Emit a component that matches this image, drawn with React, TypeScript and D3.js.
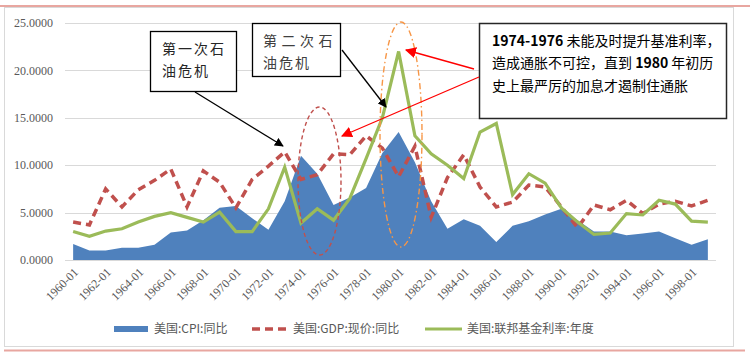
import React from "react";
import * as d3 from "d3";

const years = [
  "1960-01","1961-01","1962-01","1963-01","1964-01","1965-01","1966-01","1967-01","1968-01","1969-01",
  "1970-01","1971-01","1972-01","1973-01","1974-01","1975-01","1976-01","1977-01","1978-01","1979-01",
  "1980-01","1981-01","1982-01","1983-01","1984-01","1985-01","1986-01","1987-01","1988-01","1989-01",
  "1990-01","1991-01","1992-01","1993-01","1994-01","1995-01","1996-01","1997-01","1998-01","1999-01",
];
const cpi = [1.7,1.0,1.0,1.3,1.3,1.6,2.9,3.1,4.2,5.5,5.7,4.4,3.2,6.2,11.0,9.1,5.8,6.6,7.6,11.3,13.5,10.3,6.2,3.3,4.3,3.6,1.9,3.6,4.1,4.8,5.4,4.2,3.0,3.0,2.6,2.8,3.0,2.3,1.6,2.2];
const gdp = [4.0,3.7,7.5,5.6,7.4,8.4,9.6,5.6,9.4,8.2,5.5,8.5,9.9,11.4,8.5,9.0,11.2,11.1,13.1,11.8,8.8,12.0,4.5,8.7,11.1,7.7,5.6,6.1,7.9,7.7,5.6,3.4,5.8,5.3,6.3,4.9,5.9,6.2,5.7,6.3];
const fed = [3.0,2.5,3.05,3.3,4.0,4.6,5.0,4.5,4.0,5.05,3.0,3.0,5.4,9.8,3.9,5.4,4.2,6.5,10.7,15.0,22.0,13.1,11.2,10.0,8.6,13.5,14.4,6.9,9.1,8.1,5.5,4.0,2.7,2.85,4.9,4.75,6.3,5.9,4.1,4.0];
const yTicks = [0, 5, 10, 15, 20, 25];
const seriesNames = ["美国:CPI:同比", "美国:GDP:现价:同比", "美国:联邦基金利率:年度"];

const BLUE = "#4f81bd";
const RED = "#c0504d";
const GREEN = "#9bbb59";
const CJK = "'Noto Sans CJK SC', 'Noto Sans', sans-serif";

export default function App() {
  const x = d3.scaleBand<string>().domain(years).range([65, 716]).padding(0);
  const cx = (d: string) => (x(d) as number) + x.bandwidth() / 2;
  const y = d3.scaleLinear().domain([0, 25]).range([260, 23]);

  const area = d3.area<number>()
    .x((_, i) => cx(years[i]))
    .y0(y(0))
    .y1((d) => y(d));
  const line = d3.line<number>()
    .x((_, i) => cx(years[i]))
    .y((d) => y(d));

  return (
    <div style={{ position: "absolute", left: 0, top: 0 }}>
      <svg width={750} height={358} style={{ display: "block", background: "#fff" }}>
        <defs>
          <marker id="arrBlack" viewBox="0 0 10 10" refX="9" refY="5" markerWidth="9" markerHeight="9" markerUnits="userSpaceOnUse" orient="auto">
            <path d="M0,0 L10,5 L0,10 z" fill="#000" />
          </marker>
          <marker id="arrRed" viewBox="0 0 10 10" refX="9" refY="5" markerWidth="11" markerHeight="11" markerUnits="userSpaceOnUse" orient="auto">
            <path d="M0,0 L10,5 L0,10 z" fill="#ff0000" />
          </marker>
        </defs>

        {/* outer frame */}
        <rect x={4.5} y={7.5} width={729} height={339} fill="none" stroke="#d9d9d9" strokeWidth={1} />
        <line x1={0} x2={750} y1={6} y2={6} stroke="#e8a6a0" strokeWidth={2} />
        <line x1={4} x2={745} y1={350.5} y2={350.5} stroke="#e8a6a0" strokeWidth={2} />

        {/* gridlines */}
        {yTicks.map((t) => (
          <line key={t} x1={65} x2={716} y1={Math.round(y(t)) + 0.5} y2={Math.round(y(t)) + 0.5} stroke="#d9d9d9" strokeWidth={1} />
        ))}
        {yTicks.map((t) => (
          <text key={"l" + t} x={53} y={y(t)} dy="0.35em" textAnchor="end" fontFamily="'Liberation Serif', serif" fontSize={12} fill="#595959">
            {t.toFixed(4)}
          </text>
        ))}
        {years.map((d, i) =>
          i % 2 === 0 ? (
            <text key={d} transform={`translate(${cx(d) + 3},${270}) rotate(-45)`} dy="0.35em" textAnchor="end" fontFamily="'Liberation Serif', serif" fontSize={12} fill="#595959">
              {d}
            </text>
          ) : null
        )}

        {/* series */}
        <path d={area(cpi) as string} fill={BLUE} />
        <path d={line(gdp) as string} fill="none" stroke={RED} strokeWidth={3.5} strokeDasharray="8,5" />
        <path d={line(fed) as string} fill="none" stroke={GREEN} strokeWidth={3.2} strokeLinejoin="miter" />

        {/* ellipses */}
        <ellipse cx={319.5} cy={181} rx={21.5} ry={74} fill="none" stroke={RED} strokeWidth={1.4} strokeDasharray="4,3" />
        <ellipse cx={401} cy={134.5} rx={21} ry={112.5} fill="none" stroke="#f79646" strokeWidth={1.4} strokeDasharray="6,3,1.5,3" />

        {/* annotation 1 */}
        <rect x={150.5} y={31.5} width={86} height={60} fill="#fff" stroke="#000" strokeWidth={1.3} />
        <text x={162} y={49} dy="0.35em" fontFamily={CJK} fontSize={14} letterSpacing={2} fill="#262626">第一次石</text>
        <text x={162} y={71} dy="0.35em" fontFamily={CJK} fontSize={14} letterSpacing={2} fill="#262626">油危机</text>
        <line x1={195} y1={92} x2={283} y2={146} stroke="#000" strokeWidth={1.3} markerEnd="url(#arrBlack)" />

        {/* annotation 2 */}
        <rect x={252.5} y={23.5} width={88} height={53} fill="#fff" stroke="#000" strokeWidth={1.3} />
        <text x={263} y={41} dy="0.35em" fontFamily={CJK} fontSize={14} letterSpacing={4.5} fill="#404040">第二次石</text>
        <text x={263} y={63} dy="0.35em" fontFamily={CJK} fontSize={14} letterSpacing={2} fill="#404040">油危机</text>
        <line x1={342} y1={50} x2={386} y2={107} stroke="#000" strokeWidth={1.3} markerEnd="url(#arrBlack)" />

        {/* annotation 3 */}
        <rect x={479.5} y={23.5} width={247} height={95} fill="#fff" stroke="#262626" strokeWidth={1.5} />
        <text x={492} y={41} dy="0.35em" fontFamily={CJK} fontSize={14} fill="#000">
          <tspan fontWeight="bold">1974-1976</tspan> 未能及时提升基准利率，
        </text>
        <text x={492} y={63.5} dy="0.35em" fontFamily={CJK} fontSize={14} fill="#000">
          造成通胀不可控，直到 <tspan fontWeight="bold">1980</tspan> 年初历
        </text>
        <text x={492} y={86} dy="0.35em" fontFamily={CJK} fontSize={14} fill="#000">
          史上最严厉的加息才遏制住通胀
        </text>
        <line x1={474} y1={69} x2={406} y2={50} stroke="#ff0000" strokeWidth={1.3} markerEnd="url(#arrRed)" />
        <line x1={479} y1={77} x2={342} y2={136} stroke="#ff0000" strokeWidth={1.3} markerEnd="url(#arrRed)" />

        {/* legend */}
        <rect x={114} y={326} width={34} height={6} fill={BLUE} />
        <text x={154} y={329} dy="0.35em" fontFamily={CJK} fontSize={12} fill="#595959">{seriesNames[0]}</text>
        <line x1={252} x2={286} y1={329} y2={329} stroke={RED} strokeWidth={3.5} strokeDasharray="8,5" />
        <text x={293} y={329} dy="0.35em" fontFamily={CJK} fontSize={12} fill="#595959">{seriesNames[1]}</text>
        <line x1={425} x2={462} y1={329} y2={329} stroke={GREEN} strokeWidth={3.2} />
        <text x={467} y={329} dy="0.35em" fontFamily={CJK} fontSize={12} fill="#595959">{seriesNames[2]}</text>
      </svg>
    </div>
  );
}
